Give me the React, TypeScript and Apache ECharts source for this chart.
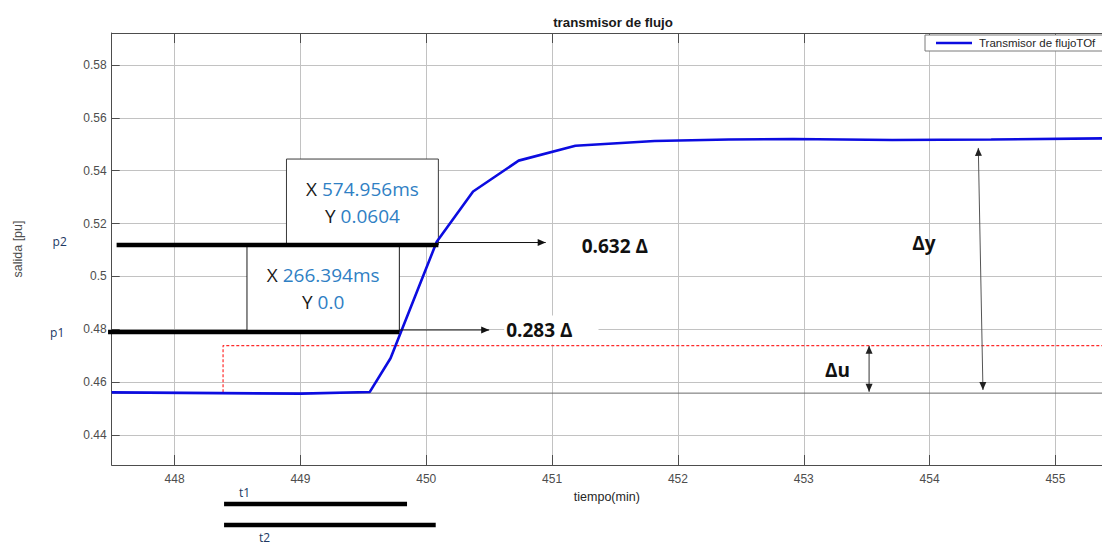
import React, { useEffect, useRef } from 'react';
import * as echarts from 'echarts';

// Flow transmitter response (time in minutes, output in per-unit)
const timeMin = [447.5, 449.005, 449.55, 449.716, 450.083, 450.372, 450.734, 451.185, 451.814, 452.404, 452.915, 453.702, 454.489, 455.37];
const flowOut = [0.4561, 0.4556, 0.4562, 0.469, 0.5131, 0.5321, 0.5438, 0.5494, 0.5512, 0.5518, 0.552, 0.5516, 0.5518, 0.5522];

// Input step (dashed red) and initial steady level
const stepTime = 448.385;
const stepLow = 0.4561;
const stepHigh = 0.4738;
const baseLevel = 0.4558;

// Axis limits and ticks
const X_MIN = 447.5;
const X_MAX = 455.37;
const Y_MIN = 0.4286;
const Y_MAX = 0.5921;
const xTicks = [448, 449, 450, 451, 452, 453, 454, 455];
const yTicks = [0.44, 0.46, 0.48, 0.5, 0.52, 0.54, 0.56, 0.58];

// Two-point method markers
const p1Level = 0.4789;
const p1From = 447.471;
const p1To = 449.786;
const p2Level = 0.5119;
const p2From = 447.539;
const p2To = 450.096;
const box1Left = 448.889;
const box1Top = 0.5444;
const box2Left = 448.575;
const arrow632 = { level: 0.5128, from: 450.096, to: 450.949 };
const arrow283 = { level: 0.4797, from: 449.786, to: 450.5 };
const deltaY = { t1: 454.387, v1: 0.5486, t2: 454.424, v2: 0.457 };
const deltaU = { t: 453.519, v1: 0.4737, v2: 0.4563 };
const t1Span = [448.393, 449.847];
const t2Span = [448.393, 450.075];

const seriesName = 'Transmisor de flujoTOf';
const AX = '#4d4d4d';
const SANS = 'Liberation Sans, Arial, sans-serif';
const CAL = 'Open Sans, Noto Sans, sans-serif';
const NAVY = '#203864';
const BLUE_TXT = '#2f80c4';
const LINE_BLUE = '#0c0ce0';
const STEP_RED = '#ff2a2a';

export default function App() {
  const ref = useRef<HTMLDivElement>(null);

  useEffect(() => {
    if (!ref.current) return;
    const chart = echarts.init(ref.current, null, { renderer: 'svg' });

    const axisCommon = {
      type: 'value' as const,
      axisLine: { show: true, onZero: false, lineStyle: { color: AX, width: 1 } },
    };

    chart.setOption({
      animation: false,
      backgroundColor: '#fff',
      grid: { left: 111.7, right: -10, top: 33, bottom: 80 },
      legend: {
        data: [{ name: seriesName, icon: 'rect' }],
        left: 925,
        top: 35,
        backgroundColor: '#fff',
        borderColor: '#7a7a7a',
        borderWidth: 1,
        borderRadius: 0,
        padding: [2, 40, 2, 11],
        itemWidth: 36,
        itemHeight: 2.5,
        itemGap: 6,
        selectedMode: false,
        textStyle: { fontSize: 11.5, color: '#262626', fontFamily: SANS, padding: [0, 0, 0, 2] },
      },
      xAxis: [
        {
          ...axisCommon,
          position: 'bottom',
          min: X_MIN,
          max: X_MAX,
          name: 'tiempo(min)',
          nameLocation: 'middle',
          nameGap: 25,
          nameTextStyle: { fontSize: 12.5, color: '#262626', fontFamily: SANS },
          axisTick: { show: true, inside: true, length: 10, customValues: xTicks, lineStyle: { color: AX } },
          axisLabel: { customValues: xTicks, color: AX, fontSize: 12, margin: 8, fontFamily: SANS },
          splitLine: { show: true, lineStyle: { color: '#c2c2c2', width: 1 } },
        },
        {
          ...axisCommon,
          position: 'top',
          min: X_MIN,
          max: X_MAX,
          axisTick: { show: true, inside: true, length: 10, customValues: xTicks, lineStyle: { color: AX } },
          axisLabel: { show: false },
          splitLine: { show: false },
        },
      ],
      yAxis: {
        ...axisCommon,
        min: Y_MIN,
        max: Y_MAX,
        name: 'salida [pu]',
        nameLocation: 'middle',
        nameRotate: 90,
        nameGap: 87,
        nameTextStyle: { fontSize: 12.5, color: '#4d4d4d', fontFamily: SANS },
        axisTick: { show: true, inside: true, length: 8, customValues: yTicks, lineStyle: { color: AX } },
        axisLabel: {
          customValues: yTicks,
          color: AX,
          fontSize: 12,
          margin: 5,
          fontFamily: SANS,
          formatter: (v: number) => String(+v.toFixed(2)),
        },
        splitLine: { show: true, lineStyle: { color: '#c2c2c2', width: 1 } },
      },
      series: [
        {
          name: 'base',
          type: 'line',
          symbol: 'none',
          z: 2,
          color: '#6a6a6a',
          data: [[X_MIN, baseLevel], [X_MAX, baseLevel]],
          lineStyle: { color: '#6a6a6a', width: 1 },
        },
        {
          name: 'entrada',
          type: 'line',
          symbol: 'none',
          z: 2,
          color: STEP_RED,
          data: [[stepTime, stepLow], [stepTime, stepHigh], [X_MAX, stepHigh]],
          itemStyle: { color: STEP_RED },
          lineStyle: { color: STEP_RED, width: 1.2, type: [3, 2] },
        },
        {
          name: seriesName,
          type: 'line',
          symbol: 'none',
          z: 3,
          color: LINE_BLUE,
          data: timeMin.map((t, i) => [t, flowOut[i]]),
          lineStyle: { color: LINE_BLUE, width: 2.6 },
          itemStyle: { color: LINE_BLUE },
        },
      ],
    });

    const px = (t: number, v: number) =>
      chart.convertToPixel({ xAxisIndex: 0, yAxisIndex: 0 }, [t, v]) as number[];

    const line = (a: number[], b: number[], color: string, w: number, z = 10) => ({
      type: 'line',
      z,
      shape: { x1: a[0], y1: a[1], x2: b[0], y2: b[1] },
      style: { stroke: color, lineWidth: w },
    });
    const head = (tip: number[], tail: number[], color: string, len = 8, half = 3.5) => {
      const dx = tip[0] - tail[0];
      const dy = tip[1] - tail[1];
      const d = Math.hypot(dx, dy);
      const ux = dx / d;
      const uy = dy / d;
      const bx = tip[0] - ux * len;
      const by = tip[1] - uy * len;
      return {
        type: 'polygon',
        z: 11,
        shape: { points: [[tip[0], tip[1]], [bx - uy * half, by + ux * half], [bx + uy * half, by - ux * half]] },
        style: { fill: color },
      };
    };
    const text = (x: number, y: number, t: string, style: any, z = 12) => ({
      type: 'text',
      z,
      x,
      y,
      style: { text: t, ...style },
    });

    const p1a = px(p1From, p1Level);
    const p1b = px(p1To, p1Level);
    const p2a = px(p2From, p2Level);
    const p2b = px(p2To, p2Level);
    const b1tl = px(box1Left, box1Top);
    const b2l = px(box2Left, p2Level);

    const a632a = px(arrow632.from, arrow632.level);
    const a632b = px(arrow632.to, arrow632.level);
    const a283a = px(arrow283.from, arrow283.level);
    const a283b = px(arrow283.to, arrow283.level);
    const dyA = px(deltaY.t1, deltaY.v1);
    const dyB = px(deltaY.t2, deltaY.v2);
    const duA = px(deltaU.t, deltaU.v1);
    const duB = px(deltaU.t, deltaU.v2);
    const t1a = px(t1Span[0], Y_MIN);
    const t1b = px(t1Span[1], Y_MIN);
    const t2a = px(t2Span[0], Y_MIN);
    const t2b = px(t2Span[1], Y_MIN);

    const FS = 19;
    const boxRich = {
      k: { fill: '#1a1a1a', fontSize: FS, fontFamily: CAL },
      v: { fill: BLUE_TXT, fontSize: FS, fontFamily: CAL },
    };
    const boxText = (cx: number, cy: number, t: string) =>
      text(cx, cy, t, {
        rich: boxRich,
        fontSize: FS,
        fontFamily: CAL,
        fill: '#1a1a1a',
        align: 'center',
        verticalAlign: 'middle',
      });
    const bold = { fontSize: 19, fontWeight: 'bold', fontFamily: CAL, fill: '#111', verticalAlign: 'middle' };

    const b1w = p2b[0] - b1tl[0];
    const b1h = p2b[1] - b1tl[1];
    const b2w = p1b[0] - b2l[0];
    const b2h = p1b[1] - b2l[1];

    const graphic: any[] = [
      // cursor boxes
      {
        type: 'rect',
        z: 1,
        shape: { x: b1tl[0], y: b1tl[1], width: b1w, height: b1h },
        style: { fill: '#fff', stroke: '#3a3a3a', lineWidth: 1 },
      },
      {
        type: 'rect',
        z: 1,
        shape: { x: b2l[0], y: b2l[1], width: b2w, height: b2h },
        style: { fill: '#fff', stroke: '#1a1a1a', lineWidth: 1 },
      },
      boxText(b1tl[0] + b1w / 2, b1tl[1] + 30, '{k|X }{v|574.956ms}'),
      boxText(b1tl[0] + b1w / 2, b1tl[1] + 57, '{k|Y }{v|0.0604}'),
      boxText(b2l[0] + b2w / 2, b2l[1] + 30, '{k|X }{v|266.394ms}'),
      boxText(b2l[0] + b2w / 2, b2l[1] + 57, '{k|Y }{v|0.0}'),
      // p1 / p2 levels
      line(p2a, p2b, '#000', 4.5),
      line(p1a, p1b, '#000', 4.5),
      text(p2a[0] - 64, p2a[1] - 3, 'p2', { fontSize: 12, fontFamily: CAL, fill: NAVY, verticalAlign: 'middle' }),
      text(p1a[0] - 58, p1a[1], 'p1', { fontSize: 12, fontFamily: CAL, fill: NAVY, verticalAlign: 'middle' }),
      // 63.2% and 28.3% arrows
      line(a632a, a632b, '#111', 1),
      head(a632b, a632a, '#111'),
      text(a632b[0] + 36, a632b[1] + 3, '0.632 Δ', bold),
      line(a283a, a283b, '#111', 1),
      head(a283b, a283a, '#111'),
      text(a283b[0] + 15, a283b[1], '0.283 Δ', { ...bold, backgroundColor: '#fff', padding: [5, 26, 5, 2] }),
      // Δy and Δu
      line(dyA, dyB, '#555', 1),
      head(dyA, dyB, '#222'),
      head(dyB, dyA, '#222'),
      text(dyA[0] - 66, 243, 'Δy', bold),
      line(duA, duB, '#333', 1),
      head(duA, duB, '#222'),
      head(duB, duA, '#222'),
      text(duA[0] - 44, 370, 'Δu', bold),
      // t1 / t2 spans
      text(t1a[0] + 15, 492, 't1', { fontSize: 12, fontFamily: CAL, fill: NAVY, verticalAlign: 'middle' }),
      line([t1a[0], 504], [t1b[0], 504], '#000', 4.5),
      line([t2a[0], 525], [t2b[0], 525], '#000', 4.5),
      text(t2a[0] + 35, 537, 't2', { fontSize: 12, fontFamily: CAL, fill: NAVY, verticalAlign: 'middle' }),
      // title
      text(613, 22, 'transmisor de flujo', {
        fontSize: 13.3,
        fontWeight: 'bold',
        fontFamily: SANS,
        fill: '#1a1a1a',
        align: 'center',
        verticalAlign: 'middle',
      }),
    ];

    chart.setOption({ graphic });

    return () => chart.dispose();
  }, []);

  return (
    <div
      ref={ref}
      style={{ position: 'fixed', left: 0, top: 0, width: 1102, height: 545, overflow: 'hidden' }}
    />
  );
}
